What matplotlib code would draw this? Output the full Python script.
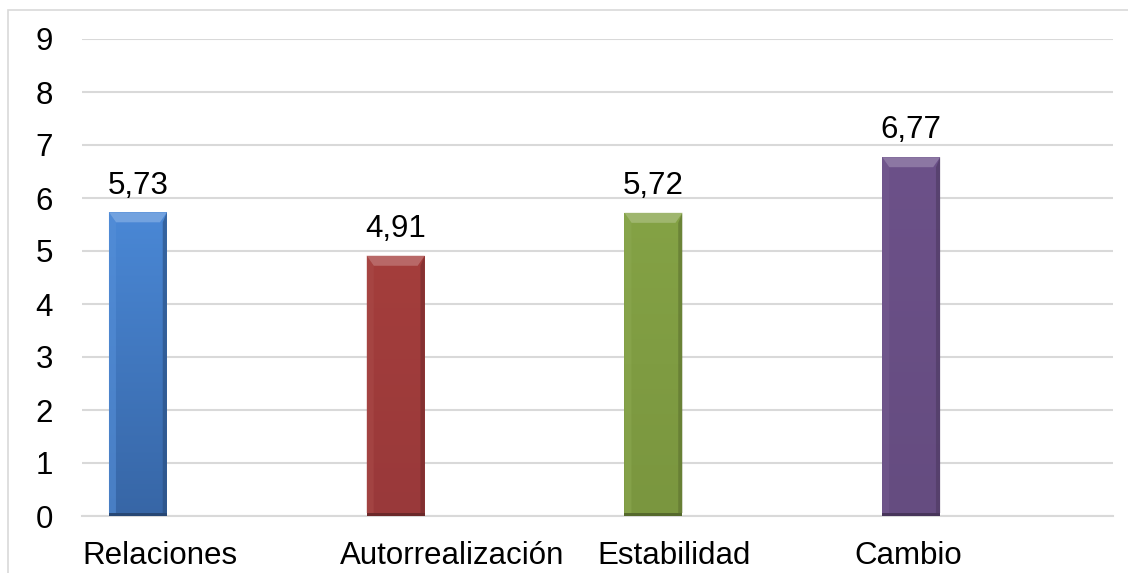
import matplotlib.pyplot as plt
from matplotlib.patches import Rectangle, Polygon
import matplotlib.colors as mcolors
import numpy as np

categories = ['Relaciones', 'Autorrealización', 'Estabilidad', 'Cambio']
values = [5.73, 4.91, 5.72, 6.77]
value_labels = ['5,73', '4,91', '5,72', '6,77']
y_ticks = [0, 1, 2, 3, 4, 5, 6, 7, 8, 9]

# top / bottom colour of each bar's gradient
top_colors = ['#4A88D6', '#A43E3C', '#84A245', '#6C5189']
bottom_colors = ['#3766A6', '#99393A', '#7A963F', '#654C80']
# the category labels sit a little off the bars in the original
label_shift = [0.085, 0.22, 0.08, -0.01]

W, H, DPI = 1128, 573, 100
fig = plt.figure(figsize=(W / DPI, H / DPI), dpi=DPI)
plt.rcParams['font.family'] = ['Liberation Sans', 'DejaVu Sans']

# light frame around the chart (cut at the right and bottom)
fig.patches.append(Rectangle((8 / W, -0.1), 1.2, 1 - 10 / H + 0.1,
                             transform=fig.transFigure, fill=False,
                             edgecolor='#D9D9D9', linewidth=1.2))

ax_l, ax_r, ax_b, ax_t = 82, 1113, 516, 39
ax = fig.add_axes([ax_l / W, (H - ax_b) / H, (ax_r - ax_l) / W, (ax_b - ax_t) / H])

xs = list(range(len(categories)))
bw = 0.225
bars = ax.bar(xs, values, width=bw, color=top_colors, zorder=3)

ax.set_xlim(-0.217, 3.783)
ax.set_ylim(0, 9)


def mix(c, other, t):
    a, b = np.array(mcolors.to_rgb(c)), np.array(mcolors.to_rgb(other))
    return tuple(a + (b - a) * t)


# gradient fill and bevel look on each bar
px_x = (ax_r - ax_l) / (3.783 + 0.217)
px_y = (ax_b - ax_t) / 9
top_d, side_d, bot_d = 10 / px_y, 7 / px_x, 3 / px_y
for bar, ct, cb in zip(bars, top_colors, bottom_colors):
    x0, w, h = bar.get_x(), bar.get_width(), bar.get_height()
    x1 = x0 + w
    grad = np.linspace(0, 1, 256)[:, None, None]
    img = np.array(mcolors.to_rgb(ct))[None, None, :] * (1 - grad) + \
        np.array(mcolors.to_rgb(cb))[None, None, :] * grad
    im = ax.imshow(img, extent=(x0, x1, 0, h), origin='upper', aspect='auto',
                   zorder=3.5, interpolation='bilinear')
    im.set_clip_path(bar)
    ax.add_patch(Polygon([(x0, h), (x1, h), (x1 - side_d, h - top_d), (x0 + side_d, h - top_d)],
                         facecolor=mix(ct, 'white', 0.22), zorder=4, lw=0))
    ax.add_patch(Polygon([(x0, bot_d), (x0, h), (x0 + side_d, h - top_d), (x0 + side_d, bot_d)],
                         facecolor=mix(ct, 'white', 0.06), alpha=0.6, zorder=4, lw=0))
    ax.add_patch(Polygon([(x1, bot_d), (x1, h), (x1 - side_d * 0.6, h - top_d), (x1 - side_d * 0.6, bot_d)],
                         facecolor=mix(cb, 'black', 0.25), alpha=0.6, zorder=4, lw=0))
    ax.add_patch(Polygon([(x0, 0), (x1, 0), (x1, bot_d), (x0, bot_d)],
                         facecolor=mix(cb, 'black', 0.3), zorder=4, lw=0))

for x, v, t in zip(xs, values, value_labels):
    ax.annotate(t, (x, v), xytext=(0, 13.5), textcoords='offset points',
                ha='center', va='baseline', fontsize=22.5, color='black')

ax.set_yticks(y_ticks)
ax.set_yticklabels([str(t) for t in y_ticks])
ax.set_xticks([x + s for x, s in zip(xs, label_shift)])
ax.set_xticklabels(categories)
ax.tick_params(axis='both', length=0, labelsize=22.5, colors='black')
ax.tick_params(axis='y', pad=21)
ax.tick_params(axis='x', pad=18)

ax.grid(axis='y', color='#D9D9D9', linewidth=1.5, zorder=0)
ax.set_axisbelow(True)
for s in ['top', 'right', 'left']:
    ax.spines[s].set_visible(False)
ax.spines['bottom'].set_color('#D9D9D9')
ax.spines['bottom'].set_linewidth(1.5)

fig.savefig('out.png', dpi=DPI)
